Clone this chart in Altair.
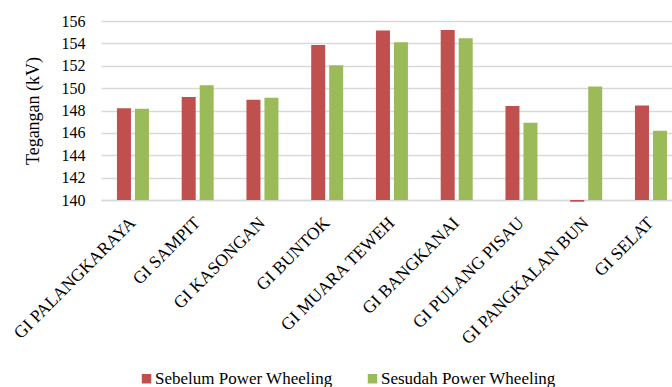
import altair as alt
import pandas as pd

# Gardu induk (substations) and bus voltages before/after power wheeling
stations = [
    "GI PALANGKARAYA", "GI SAMPIT", "GI KASONGAN", "GI BUNTOK",
    "GI MUARA TEWEH", "GI BANGKANAI", "GI PULANG PISAU",
    "GI PANGKALAN BUN", "GI SELAT",
]
sebelum = [148.2, 149.2, 148.95, 153.85, 155.15, 155.2, 148.4, 139.85, 148.45]
sesudah = [148.15, 150.25, 149.15, 152.05, 154.1, 154.45, 146.9, 150.15, 146.2]
series = ["Sebelum Power Wheeling", "Sesudah Power Wheeling"]
colors = ["#C0504D", "#9BBB59"]
y_ticks = [140, 142, 144, 146, 148, 150, 152, 154, 156]

rows = []
for name, a, b in zip(stations, sebelum, sesudah):
    rows.append({"GI": name, "Seri": series[0], "kV": a})
    rows.append({"GI": name, "Seri": series[1], "kV": b})
df = pd.DataFrame(rows)

FONT = ("Liberation Serif, Times New Roman, Tinos, Noto Serif, "
        "DejaVu Serif, FreeSerif, Nimbus Roman, serif")

bars = alt.Chart(df).mark_bar(clip=False).encode(
    x=alt.X(
        "GI:N",
        sort=stations,
        title=None,
        scale=alt.Scale(paddingInner=0.506, paddingOuter=0.162, align=0.76),
        axis=alt.Axis(
            labelAngle=-45,
            labelAlign="right",
            labelBaseline="middle",
            labelPadding=20,
            labelFont=FONT,
            labelFontSize=17.5,
            labelColor="#000000",
            labelLimit=0,
            ticks=False,
            domain=True,
            domainColor="#d9d9d9",
            domainWidth=1.5,
            labelOverlap=False,
        ),
    ),
    xOffset=alt.XOffset(
        "Seri:N", sort=series, scale=alt.Scale(paddingInner=0.222, paddingOuter=0)
    ),
    y=alt.Y(
        "kV:Q",
        scale=alt.Scale(domain=[140, 156], zero=False, nice=False),
        axis=alt.Axis(
            values=y_ticks,
            title="Tegangan (kV)",
            titleFont=FONT,
            titleFontSize=18,
            titleFontWeight="normal",
            titleColor="#000000",
            titleX=-68,
            titleY=89.5,
            titleAlign="center",
            titleBaseline="middle",
            titleAngle=-90,
            labelFont=FONT,
            labelFontSize=16,
            labelColor="#000000",
            labelPadding=16,
            ticks=False,
            domain=False,
            grid=True,
            gridColor="#d9d9d9",
            gridWidth=1.5,
        ),
    ),
    y2=alt.datum(140),
    color=alt.Color(
        "Seri:N",
        sort=series,
        scale=alt.Scale(domain=series, range=colors),
        legend=alt.Legend(
            title=None,
            orient="none",
            legendX=37,
            legendY=349,
            direction="horizontal",
            symbolType="square",
            symbolSize=90,
            symbolStrokeWidth=0,
            labelFont=FONT,
            labelFontSize=17,
            labelColor="#000000",
            labelLimit=0,
            labelOffset=0,
            columnPadding=31,
            padding=0,
        ),
    ),
)

chart = bars.properties(
    width=571,
    height=179,
    autosize=alt.AutoSizeParams(type="none"),
    padding={"left": 101, "top": 21, "right": 0, "bottom": 187},
    background="#ffffff",
).configure_view(stroke=None)

chart.save("out.html", embed_options={"renderer": "svg", "actions": False})
